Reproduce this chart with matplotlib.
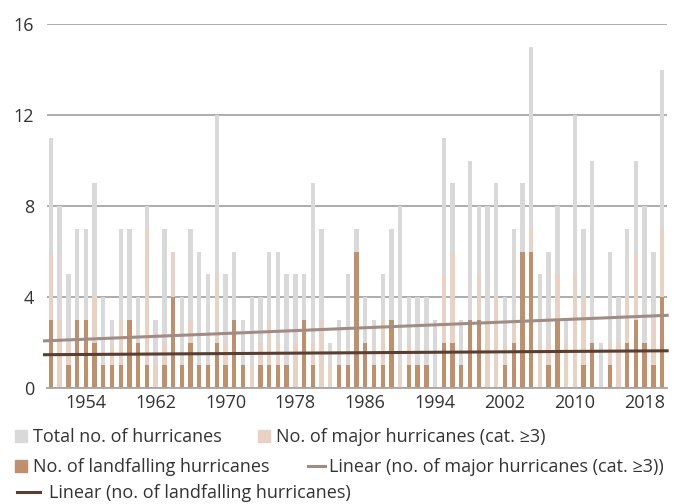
import matplotlib
matplotlib.use("Agg")
import matplotlib.pyplot as plt
import numpy as np
from matplotlib.lines import Line2D
from matplotlib.patches import Patch

years = list(range(1950, 2021))
total = [11, 8, 5, 7, 7, 9, 4, 3, 7, 7,
         4, 8, 3, 7, 6, 4, 7, 6, 5, 12,
         5, 6, 3, 4, 4, 6, 6, 5, 5, 5,
         9, 7, 2, 3, 5, 7, 4, 3, 5, 7,
         8, 4, 4, 4, 3, 11, 9, 3, 10, 8,
         8, 9, 4, 7, 9, 15, 5, 6, 8, 3,
         12, 7, 10, 2, 6, 4, 7, 10, 8, 6, 14]
major = [6, 3, 2, 3, 2, 4, 1, 2, 3, 2,
         2, 7, 1, 2, 6, 1, 3, 1, 0, 5,
         2, 1, 0, 1, 2, 3, 2, 1, 2, 2,
         2, 3, 1, 1, 1, 3, 0, 1, 3, 2,
         1, 2, 1, 1, 0, 5, 6, 1, 3, 5,
         3, 4, 2, 3, 6, 7, 2, 2, 5, 2,
         5, 4, 2, 0, 2, 2, 4, 6, 2, 3, 7]
landfall = [3, 0, 1, 3, 3, 2, 1, 1, 1, 3,
            2, 1, 0, 1, 4, 1, 2, 1, 1, 2,
            1, 3, 1, 0, 1, 1, 1, 1, 0, 3,
            1, 0, 0, 1, 1, 6, 2, 1, 1, 3,
            0, 1, 1, 1, 0, 2, 2, 1, 3, 3,
            0, 0, 1, 2, 6, 6, 0, 1, 3, 0,
            0, 1, 2, 0, 1, 0, 2, 3, 2, 1, 4]
ytick_vals = [0, 4, 8, 12, 16]
xtick_years = [1954, 1962, 1970, 1978, 1986, 1994, 2002, 2010, 2018]

labels = ["Total no. of hurricanes",
          "No. of major hurricanes (cat. \u22653)",
          "No. of landfalling hurricanes",
          "Linear (no. of major hurricanes (cat. \u22653))",
          "Linear (no. of landfalling hurricanes)"]

plt.rcParams['font.family'] = ['Open Sans', 'DejaVu Sans']
W, H = 676, 504
fig = plt.figure(figsize=(W / 100, H / 100), dpi=100)
ax = fig.add_axes([46.5 / W, 116 / H, 620 / W, 364 / H])

c_total = '#d9d9d9'
c_major = '#e8d2c3'
c_land = '#c0906d'
c_tmaj = '#a08c84'
c_tland = '#5a3e31'
txt = '#333333'
fs = 13
fs_px = fs * 100 / 72

w = 0.5
ax.bar(years, total, w, color=c_total, zorder=2)
ax.bar(years, major, w, color=c_major, zorder=3)
ax.bar(years, landfall, w, color=c_land, zorder=4)

x = np.array(years, dtype=float)
pm = np.polyfit(x, major, 1)
pl = np.polyfit(x, landfall, 1)
xt = np.array([1949.1, 2020.75])
ax.plot(xt, np.polyval(pm, xt), color=c_tmaj, lw=2.2, zorder=5, clip_on=False, solid_capstyle='butt')
ax.plot(xt, np.polyval(pl, xt), color=c_tland, lw=2.2, zorder=6, clip_on=False, solid_capstyle='butt')

ax.set_xlim(1949.5, 2020.5)
ax.set_ylim(0, 16)
ax.set_yticks(ytick_vals)
ax.set_xticks(xtick_years)
ax.tick_params(axis='y', length=0, pad=9, labelsize=fs, labelcolor=txt)
ax.tick_params(axis='x', length=0, pad=4, labelsize=fs, labelcolor=txt)
ax.yaxis.grid(True, color='#a6a6a6', lw=1.3, zorder=1)
ax.set_axisbelow(True)
for s in ['top', 'right', 'left']:
    ax.spines[s].set_visible(False)
ax.spines['bottom'].set_color('#a6a6a6')
ax.spines['bottom'].set_linewidth(1.3)
ax.spines['bottom'].set_zorder(7)


def add_leg(handle, label, x0, y0, hl, tx, hh=12):
    fig.legend([handle], [label], loc='center left',
               bbox_to_anchor=(x0 / W, 1 - y0 / H), frameon=False,
               borderpad=0, borderaxespad=0,
               handlelength=hl / fs_px, handleheight=hh / fs_px,
               handletextpad=(tx - x0 - hl) / fs_px,
               prop={'size': fs}, labelcolor=txt)


add_leg(Patch(color=c_total), labels[0], 15, 437, 12, 33)
add_leg(Patch(color=c_major), labels[1], 258, 437, 12, 276)
add_leg(Patch(color=c_land), labels[2], 15, 467, 12, 33)
add_leg(Line2D([], [], color=c_tmaj, lw=2.2), labels[3], 308, 467, 17, 329)
add_leg(Line2D([], [], color=c_tland, lw=2.2), labels[4], 17, 493, 23, 49)

fig.savefig('out.png', dpi=100)
